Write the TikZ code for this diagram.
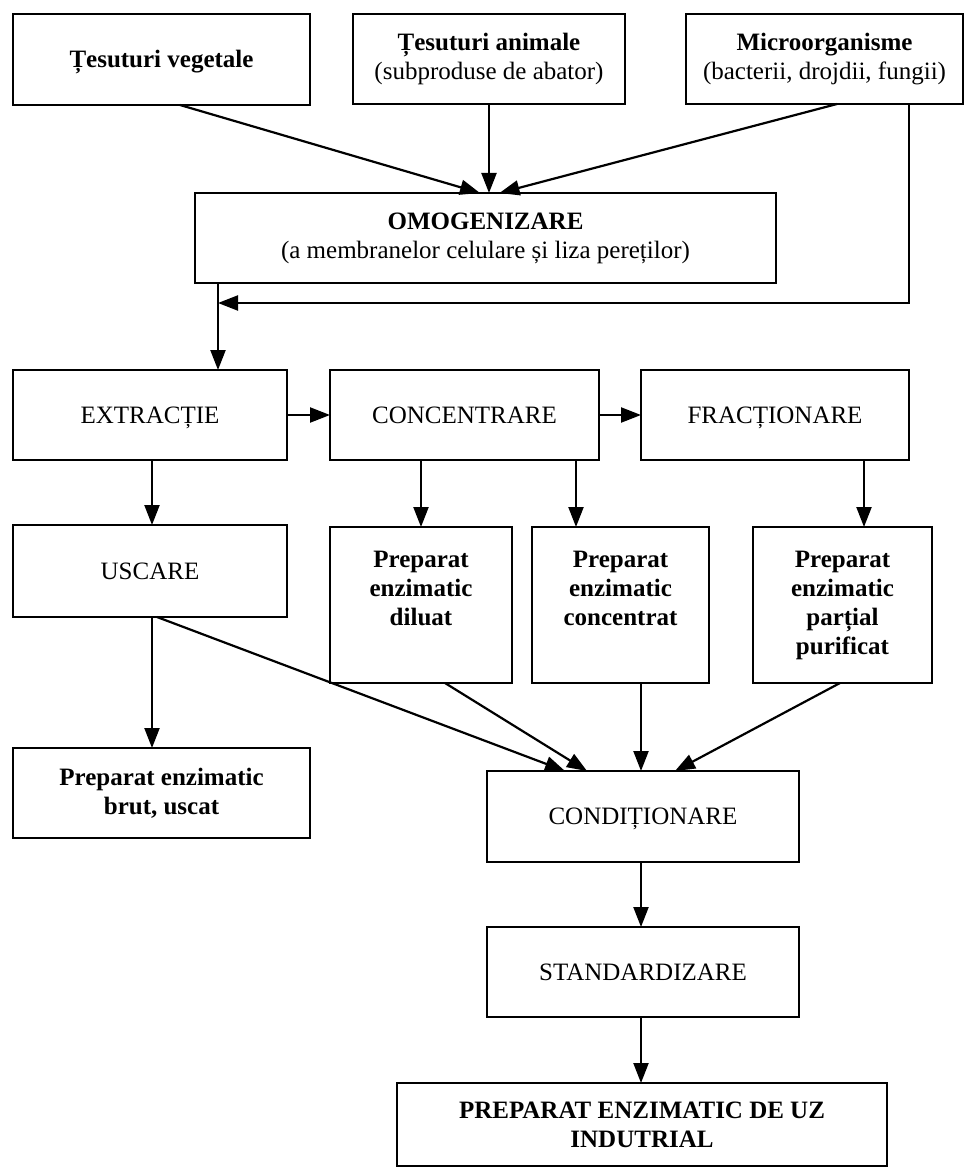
\documentclass[tikz,border=0pt]{standalone}
\usepackage{fontspec}
\setmainfont{Liberation Serif}
\usetikzlibrary{arrows.meta}
\newcommand{\topbox}[4]{\parbox[c][#1][t]{#2}{\centering\rule{0pt}{#3}#4}}
\tikzset{
  box/.style={draw, line width=2.8pt, inner sep=0pt, outer sep=0pt, align=center,
    font=\fontsize{25}{29}\selectfont},
  one/.style={text height=20pt, text depth=4pt},
  arr/.style={line width=2.2pt, -{Triangle[length=20pt,width=15pt]}},
}
\begin{document}
\begin{tikzpicture}[x=1pt,y=-1pt]
\useasboundingbox (0,0) rectangle (967,1169);
% top row
\node[box, one, minimum width=297pt, minimum height=91pt] (veg) at (161.5,59.5) {\textbf{Țesuturi vegetale}};
\node[box, minimum width=272pt, minimum height=90pt] (ani) at (489,59) {\textbf{Țesuturi animale}\\(subproduse de abator)};
\node[box, minimum width=277pt, minimum height=90pt] (mic) at (824.5,59) {\textbf{Microorganisme}\\(bacterii, drojdii, fungii)};
\node[box, minimum width=581pt, minimum height=90pt] (omog) at (485.5,238) {\textbf{OMOGENIZARE}\\(a membranelor celulare și liza pereților)};
% second row
\node[box, one, minimum width=274pt, minimum height=90pt] (extr) at (150,415) {EXTRACȚIE};
\node[box, one, minimum width=269pt, minimum height=90pt] (conc) at (464.5,415) {CONCENTRARE};
\node[box, one, minimum width=268pt, minimum height=90pt] (frac) at (775,415) {FRACȚIONARE};
% third row
\node[box, one, minimum width=274pt, minimum height=92pt] (usc) at (150,571) {USCARE};
\node[box, minimum width=182pt, minimum height=156pt] (dil) at (421,605) {\topbox{156pt}{176pt}{40pt}{\textbf{Preparat}\\\textbf{enzimatic}\\\textbf{diluat}}};
\node[box, minimum width=177pt, minimum height=156pt] (con) at (620.5,605) {\topbox{156pt}{171pt}{40pt}{\textbf{Preparat}\\\textbf{enzimatic}\\\textbf{concentrat}}};
\node[box, minimum width=179pt, minimum height=156pt] (par) at (842.5,605) {\topbox{156pt}{173pt}{40pt}{\textbf{Preparat}\\\textbf{enzimatic}\\\textbf{parțial}\\\textbf{purificat}}};
% lower
\node[box, minimum width=297pt, minimum height=90pt] (brut) at (161.5,793) {\textbf{Preparat enzimatic}\\\textbf{brut, uscat}};
\node[box, one, minimum width=312pt, minimum height=91pt] (cond) at (643,816.5) {CONDIȚIONARE};
\node[box, one, minimum width=312pt, minimum height=90pt] (stand) at (643,972) {STANDARDIZARE};
\node[box, minimum width=490pt, minimum height=83pt] (final) at (642,1124.5) {\topbox{83pt}{484pt}{35pt}{\textbf{PREPARAT ENZIMATIC DE UZ}\\\textbf{INDUTRIAL}}};
% connectors top
\draw[arr] ([xshift=18.5pt]veg.south) -- ([xshift=-5.5pt]omog.north);
\draw[arr] (ani.south) -- (ani.south |- omog.north);
\draw[arr] ([xshift=12.5pt]mic.south) -- ([xshift=14pt]omog.north);
\coordinate (j) at (218,303);
\draw[arr] ([xshift=84.5pt]mic.south) |- (j);
\draw[arr] (omog.south -| j) -- (extr.north -| j);
% second row
\draw[arr] (extr.east) -- (conc.west);
\draw[arr] (conc.east) -- (frac.west);
\draw[arr] ([xshift=2pt]extr.south) -- ([xshift=2pt]usc.north);
\draw[arr] (dil.north |- conc.south) -- (dil.north);
\draw[arr] ([xshift=-44.5pt]con.north |- conc.south) -- ([xshift=-44.5pt]con.north);
\draw[arr] ([xshift=21.5pt]par.north |- frac.south) -- ([xshift=21.5pt]par.north);
% lower
\draw[arr] ([xshift=2pt]usc.south) -- ([xshift=2pt]usc.south |- brut.north);
\draw[arr] ([xshift=7pt]usc.south) -- ([xshift=-78pt]cond.north);
\draw[arr] ([xshift=24pt]dil.south) -- ([xshift=-56pt]cond.north);
\draw[arr] ([xshift=20.5pt]con.south) -- ([xshift=20.5pt]con.south |- cond.north);
\draw[arr] ([xshift=-2.5pt]par.south) -- ([xshift=32pt]cond.north);
\draw[arr] ([xshift=-2pt]cond.south) -- ([xshift=-2pt]stand.north);
\draw[arr] ([xshift=-2pt]stand.south) -- ([xshift=-2pt]stand.south |- final.north);
\end{tikzpicture}
\end{document}
